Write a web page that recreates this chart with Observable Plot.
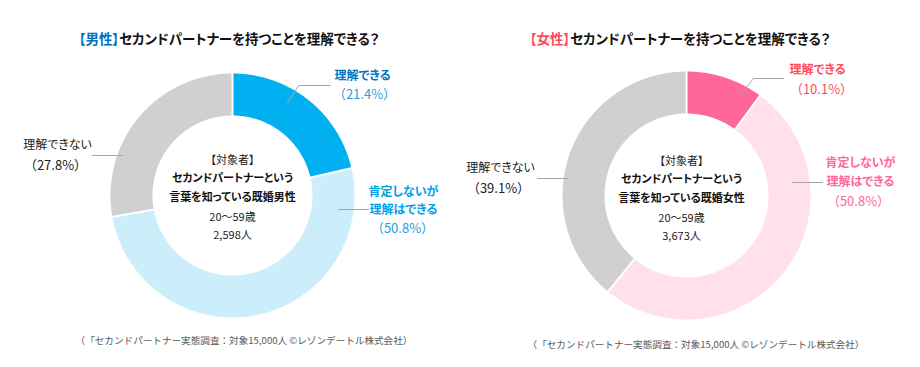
<!DOCTYPE html>
<html><head><meta charset="utf-8">
<script src="https://cdn.jsdelivr.net/npm/d3@7"></script>
<script src="https://cdn.jsdelivr.net/npm/@observablehq/plot@0.6"></script>
<style>
body{margin:0;background:#fff;font-family:"Noto Sans CJK JP","Noto Sans",sans-serif;}
#wrap{position:relative;width:920px;height:367px;overflow:hidden;background:#fff}
.t{position:absolute;width:440px;text-align:center;font-weight:bold;font-size:13.5px;line-height:20px;color:#111;font-feature-settings:"palt";white-space:nowrap}
.c{position:absolute;width:440px;text-align:center;font-size:9.6px;line-height:14px;color:#595959;white-space:nowrap;text-spacing-trim:space-all}
#chart{position:absolute;left:0;top:55px}
#chart svg text{text-spacing-trim:space-all}
#chart svg g[font-family="Noto Sans CJK JP"] text{font-feature-settings:"palt"}
</style></head>
<body><div id="wrap">
<div class="t" style="left:9px;top:28px"><span style="color:#0070C0">【男性】</span>セカンドパートナーを持つことを理解できる？</div>
<div class="t" style="left:460px;top:28px"><span style="color:#FF4B5C">【女性】</span>セカンドパートナーを持つことを理解できる？</div>
<div id="chart"></div>
<div class="c" style="left:24px;top:333px">（「セカンドパートナー実態調査：対象15,000人 ©レゾンデートル株式会社）</div>
<div class="c" style="left:476px;top:337px">（「セカンドパートナー実態調査：対象15,000人 ©レゾンデートル株式会社）</div>
</div>
<script>
// ---- data ----
const categories = ["理解できる", "肯定しないが理解はできる", "理解できない"];
const maleValues = [21.4, 50.8, 27.8];
const femaleValues = [10.1, 50.8, 39.1];
const maleCenterLines = ["【対象者】", "セカンドパートナーという", "言葉を知っている既婚男性", "20～59歳", "2,598人"];
const femaleCenterLines = ["【対象者】", "セカンドパートナーという", "言葉を知っている既婚女性", "20～59歳", "3,673人"];

// ---- styles / layout ----
const maleColors = ["#00B0F0", "#CCEEFB", "#D0D0D0"];
const femaleColors = ["#FF6699", "#FFE0EB", "#D0D0D0"];
const W = 920, H = 275;
const maleGeom = {cx: 232, cy: 140, R: 122, r: 80};
const femaleGeom = {cx: 686, cy: 140, R: 124, r: 82};

function donut(values, colors, g) {
  const total = d3.sum(values);
  let acc = 0;
  const polys = [], bounds = [];
  values.forEach((v, i) => {
    const a0 = acc / total * 2 * Math.PI; acc += v;
    const a1 = acc / total * 2 * Math.PI;
    const n = Math.max(12, Math.ceil((a1 - a0) / 0.01));
    const pts = [];
    for (let k = 0; k <= n; k++) { const a = a0 + (a1 - a0) * k / n; pts.push({x: g.cx + g.R * Math.sin(a), y: g.cy - g.R * Math.cos(a)}); }
    for (let k = n; k >= 0; k--) { const a = a0 + (a1 - a0) * k / n; pts.push({x: g.cx + g.r * Math.sin(a), y: g.cy - g.r * Math.cos(a)}); }
    polys.push({pts, color: colors[i], cat: categories[i]});
    bounds.push({x1: g.cx + (g.r - 2) * Math.sin(a0), y1: g.cy - (g.r - 2) * Math.cos(a0), x2: g.cx + (g.R + 2) * Math.sin(a0), y2: g.cy - (g.R + 2) * Math.cos(a0)});
  });
  return {polys, bounds};
}

const m = donut(maleValues, maleColors, maleGeom);
const f = donut(femaleValues, femaleColors, femaleGeom);

const pct = v => `（${v.toFixed(1)}%）`;

// label annotations (layout positions)
const boldLabels = [
  {x: 362, y: 21, text: categories[0], color: "#0070C0"},
  {x: 403, y: 137, text: "肯定しないが", color: "#00A0E9"},
  {x: 403, y: 155, text: "理解はできる", color: "#00A0E9"},
  {x: 817, y: 15, text: categories[0], color: "#FF4B5C"},
  {x: 860, y: 108, text: "肯定しないが", color: "#FF6699"},
  {x: 860, y: 127, text: "理解はできる", color: "#FF6699"}
];
const plainLabels = [
  {x: 57, y: 90, text: categories[2], color: "#222"},
  {x: 500, y: 113, text: categories[2], color: "#222"}
];
const pctLabels = [
  {x: 364, y: 39, text: pct(maleValues[0]), color: "#2E9BDA"},
  {x: 402, y: 173, text: pct(maleValues[1]), color: "#2E9BDA"},
  {x: 55, y: 110, text: pct(maleValues[2]), color: "#222"},
  {x: 821, y: 34, text: pct(femaleValues[0]), color: "#FF4B5C"},
  {x: 858, y: 146, text: pct(femaleValues[1]), color: "#FF6699"},
  {x: 498, y: 133, text: pct(femaleValues[2]), color: "#222"}
];
const leaders = [
  {id: 1, x: 287, y: 48}, {id: 1, x: 298, y: 30}, {id: 1, x: 330, y: 30},
  {id: 2, x: 338, y: 154}, {id: 2, x: 368, y: 154},
  {id: 3, x: 92, y: 100}, {id: 3, x: 122, y: 100},
  {id: 4, x: 740, y: 39}, {id: 4, x: 753, y: 23}, {id: 4, x: 783, y: 23},
  {id: 5, x: 792, y: 127}, {id: 5, x: 822, y: 127},
  {id: 6, x: 537, y: 123}, {id: 6, x: 568, y: 123}
];
const centerYs = [105, 123, 142, 162, 180];
const centerRows = [];
maleCenterLines.forEach((t, i) => centerRows.push({x: 232, y: centerYs[i], text: t, bold: i === 1 || i === 2}));
femaleCenterLines.forEach((t, i) => centerRows.push({x: 681, y: centerYs[i] + 1, text: t, bold: i === 1 || i === 2}));

const paltFont = "Noto Sans CJK JP";
const plainFont = "'Noto Sans CJK JP', sans-serif";
const plot = Plot.plot({
  width: W, height: H,
  margin: 0,
  x: {domain: [0, W], range: [0, W], axis: null},
  y: {domain: [0, H], range: [0, H], axis: null},
  style: {fontFamily: plainFont, background: "white"},
  marks: [
    ...m.polys.map(p => Plot.line(p.pts, {x: "x", y: "y", fill: p.color, stroke: "none", title: () => p.cat})),
    ...f.polys.map(p => Plot.line(p.pts, {x: "x", y: "y", fill: p.color, stroke: "none", title: () => p.cat})),
    Plot.link([...m.bounds, ...f.bounds], {x1: "x1", y1: "y1", x2: "x2", y2: "y2", stroke: "white", strokeWidth: 2}),
    Plot.line(leaders, {x: "x", y: "y", z: "id", stroke: "#A6A6A6", strokeWidth: 1}),
    Plot.text(centerRows.filter(d => d.bold), {x: "x", y: "y", text: "text", fontSize: 11, fontWeight: "bold", fill: "#111", fontFamily: paltFont}),
    Plot.text(centerRows.filter(d => !d.bold), {x: "x", y: "y", text: "text", fontSize: 11, fill: "#222", fontFamily: paltFont}),
    Plot.text(boldLabels, {x: "x", y: "y", text: "text", fill: "color", fontSize: 12, fontWeight: "bold", fontFamily: paltFont}),
    Plot.text(plainLabels, {x: "x", y: "y", text: "text", fill: "color", fontSize: 12, fontFamily: paltFont}),
    Plot.text(pctLabels, {x: "x", y: "y", text: "text", fill: "color", fontSize: 13, fontFamily: plainFont})
  ],
  color: {type: "identity"}
});
document.getElementById("chart").appendChild(plot);
</script>
</body></html>
